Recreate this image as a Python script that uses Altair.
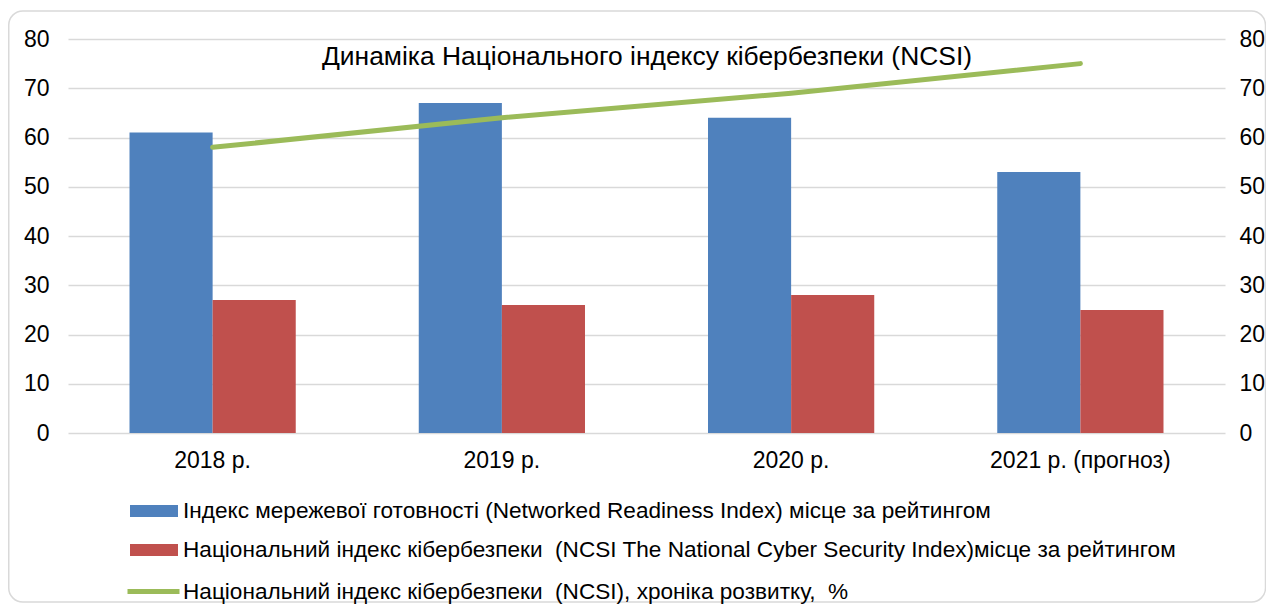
import altair as alt
import pandas as pd

# ---- data ----
years = ["2018 р.", "2019 р.", "2020 р.", "2021 р. (прогноз)"]
nri_rank = [61, 67, 64, 53]
ncsi_rank = [27, 26, 28, 25]
ncsi_pct = [58, 64, 69, 75]
series = [
    "Індекс мережевої готовності (Networked Readiness Index) місце за рейтингом",
    "Національний індекс кібербезпеки\u00a0 (NCSI The National Cyber Security Index)місце за рейтингом",
    "Національний індекс кібербезпеки\u00a0 (NCSI), хроніка розвитку,\u00a0 %",
]
colors = ["#4F81BD", "#C0504D", "#9BBB59"]
title_text = "Динаміка Національного індексу кібербезпеки (NCSI)"
y_ticks = [0, 10, 20, 30, 40, 50, 60, 70, 80]

bars_df = pd.DataFrame({
    "year": years * 2,
    "series": [series[0]] * 4 + [series[1]] * 4,
    "value": nri_rank + ncsi_rank,
})
line_df = pd.DataFrame({"year": years, "series": [series[2]] * 4, "value": ncsi_pct})

W, H = 1157, 394
FONT = "Liberation Sans"
AFS = 23
LFS = 22.6
BAR_SYM = "M-1,-0.25H1V0.25H-1Z"

bar_legend = alt.Legend(
    title=None, orient="none", direction="vertical",
    legendX=62, legendY=448, padding=0,
    labelFont=FONT, labelFontSize=LFS, labelColor="black", labelLimit=1200,
    labelOffset=5, rowPadding=3,
    symbolType=BAR_SYM, symbolSize=2304, symbolStrokeWidth=0, symbolOpacity=1,
)
line_legend = alt.Legend(
    title=None, orient="none", direction="vertical",
    legendX=57, legendY=524, padding=0,
    labelFont=FONT, labelFontSize=LFS, labelColor="black", labelLimit=1200,
    labelOffset=1,
    symbolType="stroke", symbolSize=2704, symbolStrokeWidth=5, symbolOpacity=1,
)

x = alt.X("year:N", sort=years,
          scale=alt.Scale(paddingInner=0, paddingOuter=0),
          axis=alt.Axis(title=None, labelAngle=0, domain=False, ticks=False, grid=False,
                        labelPadding=16, labelFontSize=AFS, labelLimit=400))

bars = alt.Chart(bars_df).mark_bar().encode(
    x=x,
    xOffset=alt.XOffset("series:N", sort=series[:2],
                        scale=alt.Scale(paddingInner=0, paddingOuter=0.74)),
    y=alt.Y("value:Q", scale=alt.Scale(domain=[0, 80], nice=False),
            axis=alt.Axis(orient="left", values=y_ticks, title=None, domain=False, ticks=False,
                          labelPadding=19, grid=True, gridColor="#D9D9D9", gridWidth=1.5)),
    color=alt.Color("series:N", scale=alt.Scale(domain=series[:2], range=colors[:2]),
                    legend=bar_legend),
)

line = alt.Chart(line_df).mark_line(strokeWidth=5, strokeCap="round").encode(
    x=x,
    y=alt.Y("value:Q", scale=alt.Scale(domain=[0, 80], nice=False),
            axis=alt.Axis(orient="right", values=y_ticks, title=None, domain=False, ticks=False,
                          grid=False, labelPadding=14)),
    stroke=alt.Stroke("series:N", scale=alt.Scale(domain=series[2:], range=colors[2:]),
                      legend=line_legend),
)

title = alt.Chart(pd.DataFrame({"t": [title_text]})).mark_text(
    fontSize=26.4, font=FONT, color="black", baseline="middle", align="center"
).encode(text="t:N", x=alt.value(W / 2 + 0.5), y=alt.value(18))

border = alt.Chart(pd.DataFrame({"a": [0]})).mark_rect(
    fillOpacity=0, stroke="#D9D9D9", strokeWidth=1.5, cornerRadius=14
).encode(x=alt.value(-59.25), x2=alt.value(1197.5), y=alt.value(-28), y2=alt.value(563))

chart = alt.layer(border, bars, line, title).resolve_scale(y="independent").properties(
    width=W, height=H,
    autosize="none",
    padding={"left": 60, "top": 31, "right": 41, "bottom": 171},
).configure(font=FONT).configure_view(strokeWidth=0).configure_axis(
    labelFont=FONT, labelFontSize=AFS, labelColor="black"
)

chart.save("out.html", embed_options={"renderer": "svg", "actions": False})
